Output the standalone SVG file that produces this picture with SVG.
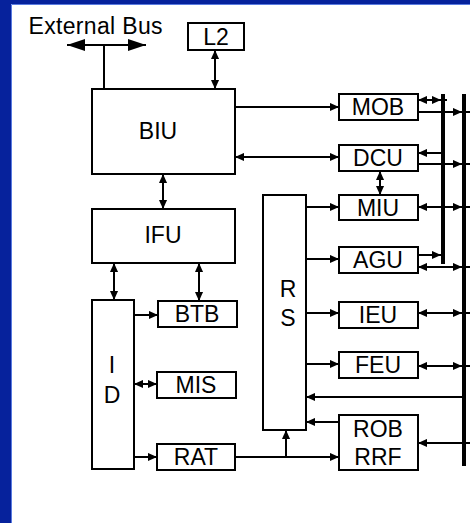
<svg xmlns="http://www.w3.org/2000/svg" width="470" height="523" viewBox="0 0 470 523">
<style>
.box{fill:#fff;stroke:#000;stroke-width:2}
.lbl{font-family:"Liberation Sans",Arial,sans-serif;font-size:23px;fill:#000;text-anchor:middle}
.c{fill:none;stroke:#000;stroke-width:2}
.bus{fill:none;stroke:#000;stroke-width:4}
</style>
<defs>
<marker id="a" viewBox="0 0 10 10" refX="10" refY="5" markerUnits="userSpaceOnUse" markerWidth="9" markerHeight="9" orient="auto-start-reverse">
<path d="M0,0.5 L10,5 L0,9.5 z" fill="#000"/>
</marker>
<marker id="big" viewBox="0 0 18 12" refX="18" refY="6" markerUnits="userSpaceOnUse" markerWidth="18" markerHeight="12" orient="auto-start-reverse">
<path d="M0,0 L18,6 L0,12 z" fill="#000"/>
</marker>
</defs>
<rect x="0" y="0" width="470" height="523" fill="#06229C"/>
<rect x="11" y="4" width="459" height="519" fill="#fff"/>
<path d="M11.5,523 V4.5 H470" fill="none" stroke="#5A7BE0" stroke-width="1"/>

<g id="connectors">
<path class="c" d="M67,45 H146" marker-start="url(#big)" marker-end="url(#big)"/>
<path class="c" d="M104,45 V89"/>
<path class="c" d="M215,50 V89" marker-start="url(#a)" marker-end="url(#a)"/>
<path class="c" d="M163,174 V209" marker-start="url(#a)" marker-end="url(#a)"/>
<path class="c" d="M114,263 V300" marker-start="url(#a)" marker-end="url(#a)"/>
<path class="c" d="M199,263 V301" marker-start="url(#a)" marker-end="url(#a)"/>
<path class="c" d="M134,315 H158" marker-end="url(#a)"/>
<path class="c" d="M134,384 H157" marker-start="url(#a)" marker-end="url(#a)"/>
<path class="c" d="M134,457 H157" marker-end="url(#a)"/>
<path class="c" d="M235,457 H339" marker-end="url(#a)"/>
<path class="c" d="M286,457 V430" marker-end="url(#a)"/>
<path class="c" d="M235,107 H339" marker-end="url(#a)"/>
<path class="c" d="M235,157 H339" marker-start="url(#a)" marker-end="url(#a)"/>
<path class="c" d="M380,171 V195" marker-start="url(#a)" marker-end="url(#a)"/>
<path class="c" d="M306,207 H339" marker-end="url(#a)"/>
<path class="c" d="M306,259 H339" marker-end="url(#a)"/>
<path class="c" d="M306,313 H339" marker-end="url(#a)"/>
<path class="c" d="M306,364 H339" marker-end="url(#a)"/>
<path class="c" d="M464,397 H306" marker-end="url(#a)"/>
<path class="c" d="M339,422 H306" marker-end="url(#a)"/>
<path class="c" d="M464,443 H418" marker-end="url(#a)"/>
<path class="c" d="M418,100 H441" marker-start="url(#a)" marker-end="url(#a)"/>
<path class="c" d="M441,100 H447"/>
<path class="c" d="M418,112 H462" marker-end="url(#a)"/>
<path class="c" d="M443,153 H418" marker-end="url(#a)"/>
<path class="c" d="M418,164 H462" marker-end="url(#a)"/>
<path class="c" d="M418,207 H462" marker-start="url(#a)" marker-end="url(#a)"/>
<path class="c" d="M418,255 H441" marker-end="url(#a)"/>
<path class="c" d="M418,267 H462" marker-start="url(#a)" marker-end="url(#a)"/>
<path class="c" d="M418,313 H462" marker-start="url(#a)" marker-end="url(#a)"/>
<path class="c" d="M418,366 H462" marker-start="url(#a)" marker-end="url(#a)"/>
<path class="c" d="M462,112 H470 M462,164 H470 M462,207 H470 M462,267 H470 M462,313 H470 M462,366 H470 M462,443 H470"/>
<path class="bus" d="M443,94 V264"/>
<path class="bus" d="M464,94 V466"/>
</g>

<text class="lbl" x="95.5" y="34" textLength="134" lengthAdjust="spacing">External Bus</text>

<g id="L2"><rect class="box" x="188" y="23" width="56" height="27"/><text class="lbl" x="216" y="45">L2</text></g>
<g id="BIU"><rect class="box" x="92" y="89" width="143" height="85"/><text class="lbl" x="158" y="139">BIU</text></g>
<g id="IFU"><rect class="box" x="92" y="209" width="143" height="54"/><text class="lbl" x="163" y="243">IFU</text></g>
<g id="ID"><rect class="box" x="92" y="300" width="42" height="169"/><text class="lbl" x="112" y="373">I</text><text class="lbl" x="112" y="403">D</text></g>
<g id="BTB"><rect class="box" x="158" y="301" width="79" height="26"/><text class="lbl" x="197" y="322">BTB</text></g>
<g id="MIS"><rect class="box" x="157" y="372" width="79" height="26"/><text class="lbl" x="196" y="393">MIS</text></g>
<g id="RAT"><rect class="box" x="157" y="444" width="78" height="26"/><text class="lbl" x="196" y="465">RAT</text></g>
<g id="RS"><rect class="box" x="263" y="195" width="43" height="235"/><text class="lbl" x="288" y="297">R</text><text class="lbl" x="288" y="326">S</text></g>
<g id="MOB"><rect class="box" x="339" y="94" width="79" height="26"/><text class="lbl" x="378" y="115">MOB</text></g>
<g id="DCU"><rect class="box" x="339" y="145" width="79" height="26"/><text class="lbl" x="378" y="166">DCU</text></g>
<g id="MIU"><rect class="box" x="339" y="195" width="79" height="25"/><text class="lbl" x="378" y="216">MIU</text></g>
<g id="AGU"><rect class="box" x="339" y="247" width="79" height="26"/><text class="lbl" x="378" y="268">AGU</text></g>
<g id="IEU"><rect class="box" x="339" y="302" width="79" height="26"/><text class="lbl" x="378" y="323">IEU</text></g>
<g id="FEU"><rect class="box" x="339" y="352" width="79" height="26"/><text class="lbl" x="378" y="373">FEU</text></g>
<g id="ROB"><rect class="box" x="339" y="415" width="79" height="55"/><text class="lbl" x="378" y="437">ROB</text><text class="lbl" x="378" y="465">RRF</text></g>
</svg>
